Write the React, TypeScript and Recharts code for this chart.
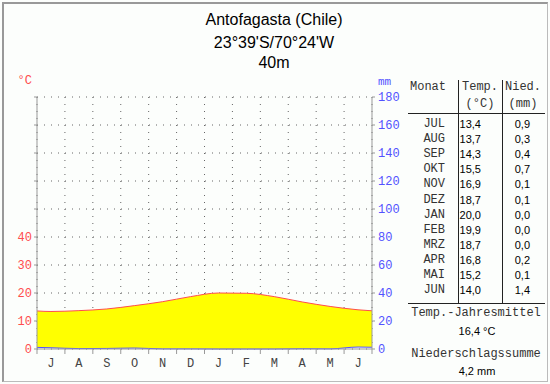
import React from "react";
import {
  ComposedChart,
  Area,
  Line,
  XAxis,
  YAxis,
  CartesianGrid,
} from "recharts";

// --- data (Antofagasta, Jul..Jun) ---
const monthLetters = ["J", "A", "S", "O", "N", "D", "J", "F", "M", "A", "M", "J"];
const monthNames = ["JUL", "AUG", "SEP", "OKT", "NOV", "DEZ", "JAN", "FEB", "MRZ", "APR", "MAI", "JUN"];
const temperature = [13.4, 13.7, 14.3, 15.5, 16.9, 18.7, 20.0, 19.9, 18.7, 16.8, 15.2, 14.0];
const precipitation = [0.9, 0.3, 0.4, 0.7, 0.1, 0.1, 0.0, 0.0, 0.0, 0.2, 0.1, 1.4];
const tempTicks = [0, 10, 20, 30, 40, 50, 60, 70, 80, 90];
const precipTicks = [0, 20, 40, 60, 80, 100, 120, 140, 160, 180];
const monthBoundaries = [0, 1, 2, 3, 4, 5, 6, 7, 8, 9, 10, 11, 12];
const annualMean = "16,4 °C";
const annualSum = "4,2 mm";

// plot box
const PLOT_LEFT = 37;
const PLOT_RIGHT = 372;
const HALF_MONTH = (PLOT_RIGHT - PLOT_LEFT) / 24;

const RED = "#ff4d4d";
const BLUE = "#5252ff";
const GREY = "#999999";
const MONO = "'Liberation Mono', 'DejaVu Sans Mono', monospace";
const SANS = "'Liberation Sans', Arial, sans-serif";

// month centres, plus the neighbouring months wrapped round so the curve runs to the edges
const chartData = [
  { x: -0.5, temp: temperature[11], precip: precipitation[11] },
  ...temperature.map((t, i) => ({ x: i + 0.5, temp: t, precip: precipitation[i] })),
  { x: 12.5, temp: temperature[0], precip: precipitation[0] },
];

const fmt = (v: number) => v.toFixed(1).replace(".", ",");

function MonthTick({ x, y, payload }: any) {
  if (payload.value >= 12) return <g />;
  return (
    <text
      x={x + HALF_MONTH}
      y={y}
      dy="0.71em"
      textAnchor="middle"
      fontFamily={MONO}
      fontSize={12}
      fill="#444"
    >
      {monthLetters[payload.value]}
    </text>
  );
}

function Txt({
  x,
  cy,
  children,
  align = "left",
  w = 0,
  font = MONO,
  size = 12,
  color = "#333",
}: any) {
  const style: React.CSSProperties = {
    position: "absolute",
    top: cy - 8,
    height: 16,
    lineHeight: "16px",
    fontFamily: font,
    fontSize: size,
    color,
    whiteSpace: "nowrap",
  };
  if (align === "left") style.left = x;
  else if (align === "right") style.right = 550 - x;
  else {
    style.left = x - w / 2;
    style.width = w;
    style.textAlign = "center";
  }
  return <div style={style}>{children}</div>;
}

function Rule({ x, y, w, h }: any) {
  return <div style={{ position: "absolute", left: x, top: y, width: w, height: h, background: "#222" }} />;
}

export default function App() {
  return (
    <div
      style={{
        position: "absolute",
        left: 0,
        top: 0,
        width: 550,
        height: 384,
        background: "#fcfefc",
        overflow: "hidden",
      }}
    >
      <div
        style={{
          position: "absolute",
          left: 2,
          top: 2,
          width: 546,
          height: 380,
          boxSizing: "border-box",
          borderTop: `2px solid ${GREY}`,
          borderLeft: `2px solid ${GREY}`,
          borderRight: "1px solid #bbb",
          borderBottom: "1px solid #bbb",
        }}
      />

      <ComposedChart
        width={550}
        height={384}
        data={chartData}
        margin={{ top: 97, right: 118, bottom: 5, left: 0 }}
      >
        <XAxis
          dataKey="x"
          type="number"
          domain={[0, 12]}
          ticks={monthBoundaries}
          allowDataOverflow
          interval={0}
          tick={<MonthTick />}
          tickSize={5}
          tickMargin={4}
          stroke={GREY}
          height={30}
        />
        <YAxis
          yAxisId="t"
          domain={[0, 90]}
          ticks={tempTicks}
          interval={0}
          width={37}
          tickSize={3}
          tickMargin={2}
          stroke={GREY}
          tick={{ fill: RED, fontFamily: MONO, fontSize: 12 }}
          tickFormatter={(v: number) => (v <= 40 ? String(v) : "")}
        />
        <YAxis
          yAxisId="p"
          orientation="right"
          domain={[0, 180]}
          ticks={precipTicks}
          interval={0}
          width={60}
          tickSize={3}
          tickMargin={3}
          stroke={GREY}
          tick={{ fill: BLUE, fontFamily: MONO, fontSize: 12, textAnchor: "start" }}
        />
        {/* arid season: yellow between precipitation (20 mm = 10 °C) and temperature */}
        <Area
          yAxisId="t"
          type="monotone"
          dataKey={(d: any) => [d.precip / 2, d.temp]}
          fill="#ffff00"
          fillOpacity={1}
          stroke="none"
          isAnimationActive={false}
          dot={false}
          activeDot={false}
        />
        <CartesianGrid yAxisId="t" stroke="#666" strokeDasharray="1 6" />
        <Line
          yAxisId="t"
          type="monotone"
          dataKey="temp"
          stroke={RED}
          strokeWidth={1}
          dot={false}
          activeDot={false}
          isAnimationActive={false}
        />
        <Line
          yAxisId="p"
          type="monotone"
          dataKey="precip"
          stroke={BLUE}
          strokeWidth={1}
          dot={false}
          activeDot={false}
          isAnimationActive={false}
        />
      </ComposedChart>

      {/* title */}
      <Txt x={274} w={300} align="center" cy={20} font={SANS} size={16} color="#000">
        Antofagasta (Chile)
      </Txt>
      <Txt x={274} w={300} align="center" cy={43} font={SANS} size={16} color="#000">
        23°39'S/70°24'W
      </Txt>
      <Txt x={274} w={300} align="center" cy={63} font={SANS} size={16} color="#000">
        40m
      </Txt>

      {/* axis units */}
      <Txt x={32} align="right" cy={81} color={RED}>
        °C
      </Txt>
      <Txt x={378} cy={82} color={BLUE} size={11}>
        mm
      </Txt>

      {/* table */}
      <Txt x={410} cy={87}>Monat</Txt>
      <Txt x={480} w={44} align="center" cy={87}>Temp.</Txt>
      <Txt x={480} w={44} align="center" cy={104}>(°C)</Txt>
      <Txt x={523} w={44} align="center" cy={87}>Nied.</Txt>
      <Txt x={523} w={44} align="center" cy={104}>(mm)</Txt>
      <Rule x={458} y={80} w={1} h={223} />
      <Rule x={502} y={80} w={1} h={223} />
      <Rule x={408} y={113} w={137} h={1} />
      <Rule x={408} y={303} w={137} h={1} />
      {monthNames.map((m, i) => (
        <React.Fragment key={m}>
          <Txt x={445} align="right" cy={124 + i * 15.1}>
            {m}
          </Txt>
          <Txt x={481} align="right" cy={124 + i * 15.1} font={SANS} size={11} color="#000">
            {fmt(temperature[i])}
          </Txt>
          <Txt x={530} align="right" cy={124 + i * 15.1} font={SANS} size={11} color="#000">
            {fmt(precipitation[i])}
          </Txt>
        </React.Fragment>
      ))}

      {/* yearly summary */}
      <Txt x={476} w={140} align="center" cy={313}>Temp.-Jahresmittel</Txt>
      <Txt x={477} w={140} align="center" cy={331} font={SANS} size={11} color="#000">
        {annualMean}
      </Txt>
      <Txt x={476} w={140} align="center" cy={354}>Niederschlagssumme</Txt>
      <Txt x={477} w={140} align="center" cy={371} font={SANS} size={11} color="#000">
        {annualSum}
      </Txt>
    </div>
  );
}
